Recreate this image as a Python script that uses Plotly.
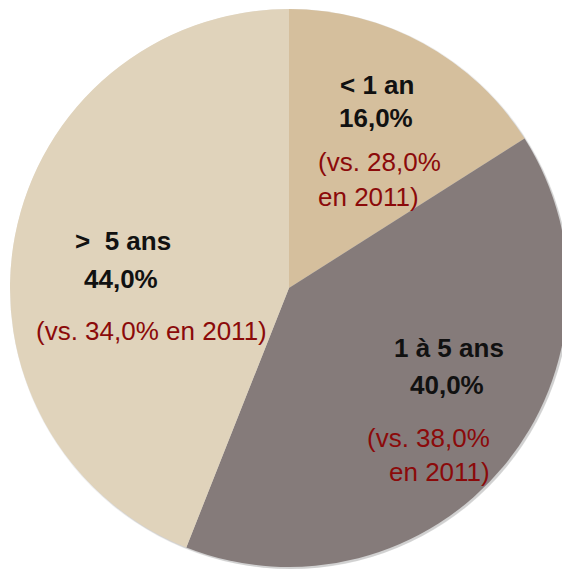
import plotly.graph_objects as go

# ---- data ----
labels = ["< 1 an", "1 à 5 ans", ">\u00a0 5 ans"]
values_2013 = [16.0, 40.0, 44.0]
values_2011 = [28.0, 38.0, 34.0]
colors = ["#D5BF9D", "#857B7A", "#E0D3BB"]

# page has an 8px body margin, so the figure is drawn from (8, 8)
OFF = 8
W, H = 570 - OFF, 569 - OFF
CX, CY, R = 289, 288, 279


def fmt(v):
    return f"{v:.1f}%".replace(".", ",")


def px(x):
    return min(max((x - OFF) / W, 0), 1)


def py(y):
    return min(max(1 - (y - OFF) / H, 0), 1)


fig = go.Figure()

# soft shadow (layered)
for dx, dr, op in [(1, 1, 0.10), (2, 0, 0.14)]:
    fig.add_trace(go.Pie(
        values=[1], labels=["shadow"], sort=False,
        marker=dict(colors=[f"rgba(60,60,60,{op})"], line=dict(width=0)),
        textinfo="none", hoverinfo="skip", showlegend=False,
        domain=dict(x=[px(CX + dx - R - dr), px(CX + dx + R + dr)],
                    y=[py(CY + dx + R + dr), py(CY + dx - R - dr)]),
    ))

fig.add_trace(go.Pie(
    labels=labels, values=values_2013, sort=False, direction="clockwise",
    rotation=0,
    marker=dict(colors=colors, line=dict(width=0)),
    textinfo="none", hoverinfo="label+percent", showlegend=False,
    domain=dict(x=[px(CX - R), px(CX + R)], y=[py(CY + R), py(CY - R)]),
))

BOLD = dict(family="Liberation Sans, Arial, sans-serif", size=26, color="#111111")
RED = dict(family="Liberation Sans, Arial, sans-serif", size=26, color="#8B0A0A")

anns = []


def add(text, x, y, font, xanchor="center"):
    anns.append(dict(text=text, x=px(x), y=py(y), xref="paper", yref="paper",
                     xanchor=xanchor, yanchor="middle", showarrow=False,
                     font=font))


# < 1 an
add(f"<b>{labels[0]}</b>", 377, 85, BOLD)
add(f"<b>{fmt(values_2013[0])}</b>", 376, 118, BOLD)
add(f"(vs. {fmt(values_2011[0])}", 316, 162, RED, "left")
add("en 2011)", 316, 197, RED, "left")

# 1 à 5 ans
add(f"<b>{labels[1]}</b>", 449, 348, BOLD)
add(f"<b>{fmt(values_2013[1])}</b>", 447, 385, BOLD)
add(f"(vs. {fmt(values_2011[1])}", 492, 438, RED, "right")
add("en 2011)", 492, 472, RED, "right")

# > 5 ans
add(f"<b>{labels[2]}</b>", 123, 241, BOLD)
add(f"<b>{fmt(values_2013[2])}</b>", 121, 279, BOLD)
add(f"(vs. {fmt(values_2011[2])} en 2011)", 151, 331, RED)

fig.update_layout(
    width=W, height=H,
    margin=dict(l=0, r=0, t=0, b=0),
    paper_bgcolor="white", plot_bgcolor="white",
    annotations=anns,
    showlegend=False,
)

fig.write_html("out.html")
